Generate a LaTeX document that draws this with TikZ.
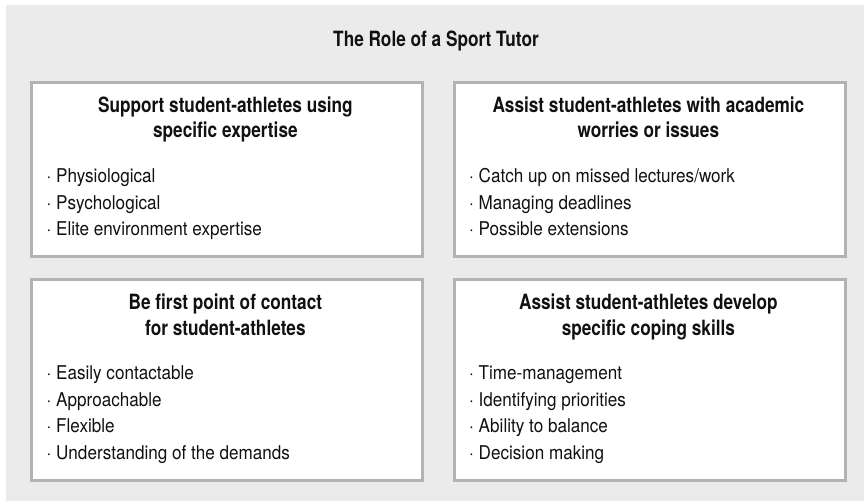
\documentclass[tikz,border=0pt]{standalone}
\usepackage{fontspec}
\setmainfont{TeX Gyre Heros}
\newfontfamily\headfont[FakeStretch=0.82]{TeX Gyre Heros Bold}
\newfontfamily\itemfont[FakeStretch=0.9]{TeX Gyre Heros}
\definecolor{bgc}{HTML}{EBEBEB}
\definecolor{bordc}{HTML}{B3B3B3}
\definecolor{txtc}{HTML}{111111}
\begin{document}
\begin{tikzpicture}[x=1pt,y=-1pt,
  panel/.style={draw=bordc, line width=3pt, fill=white, rectangle, inner sep=0pt, anchor=north west, minimum width=390.3pt},
  headline/.style={anchor=base, inner sep=0pt, text=txtc, font=\headfont\fontsize{21}{25}\selectfont},
  itemline/.style={anchor=base west, inner sep=0pt, text=txtc, font=\itemfont\fontsize{19}{23}\selectfont}]
\useasboundingbox (0,0) rectangle (864,501);
\fill[bgc] (6,5) rectangle (864,501);
\node[headline] (title) at (436,46) {The Role of a Sport Tutor};
% panels
\node[panel, minimum height=174pt] (p1) at (30.2,80.5) {};
\node[panel, minimum height=174pt] (p2) at (453.2,80.5) {};
\node[panel, minimum height=201pt] (p3) at (30.2,277.5) {};
\node[panel, minimum height=201pt] (p4) at (453.2,277.5) {};
% panel 1
\node[headline] (h1a) at (225.4,112) {Support student-athletes using};
\node[headline] (h1b) at (225.4,137.5) {specific expertise};
\node[itemline] (i1a) at (46.5,182.5) {· Physiological};
\node[itemline] (i1b) at (46.5,209) {· Psychological};
\node[itemline] (i1c) at (46.5,235.5) {· Elite environment expertise};
% panel 2
\node[headline] (h2a) at (648.4,112) {Assist student-athletes with academic};
\node[headline] (h2b) at (648.4,137.5) {worries or issues};
\node[itemline] (i2a) at (469,182.5) {· Catch up on missed lectures/work};
\node[itemline] (i2b) at (469,209) {· Managing deadlines};
\node[itemline] (i2c) at (469,235.5) {· Possible extensions};
% panel 3
\node[headline] (h3a) at (225.4,309.5) {Be first point of contact};
\node[headline] (h3b) at (225.4,335) {for student-athletes};
\node[itemline] (i3a) at (46.5,379.5) {· Easily contactable};
\node[itemline] (i3b) at (46.5,406) {· Approachable};
\node[itemline] (i3c) at (46.5,432.5) {· Flexible};
\node[itemline] (i3d) at (46.5,459) {· Understanding of the demands};
% panel 4
\node[headline] (h4a) at (648.4,309.5) {Assist student-athletes develop};
\node[headline] (h4b) at (648.4,335) {specific coping skills};
\node[itemline] (i4a) at (469,379.5) {· Time-management};
\node[itemline] (i4b) at (469,406) {· Identifying priorities};
\node[itemline] (i4c) at (469,432.5) {· Ability to balance};
\node[itemline] (i4d) at (469,459) {· Decision making};
\end{tikzpicture}
\end{document}
